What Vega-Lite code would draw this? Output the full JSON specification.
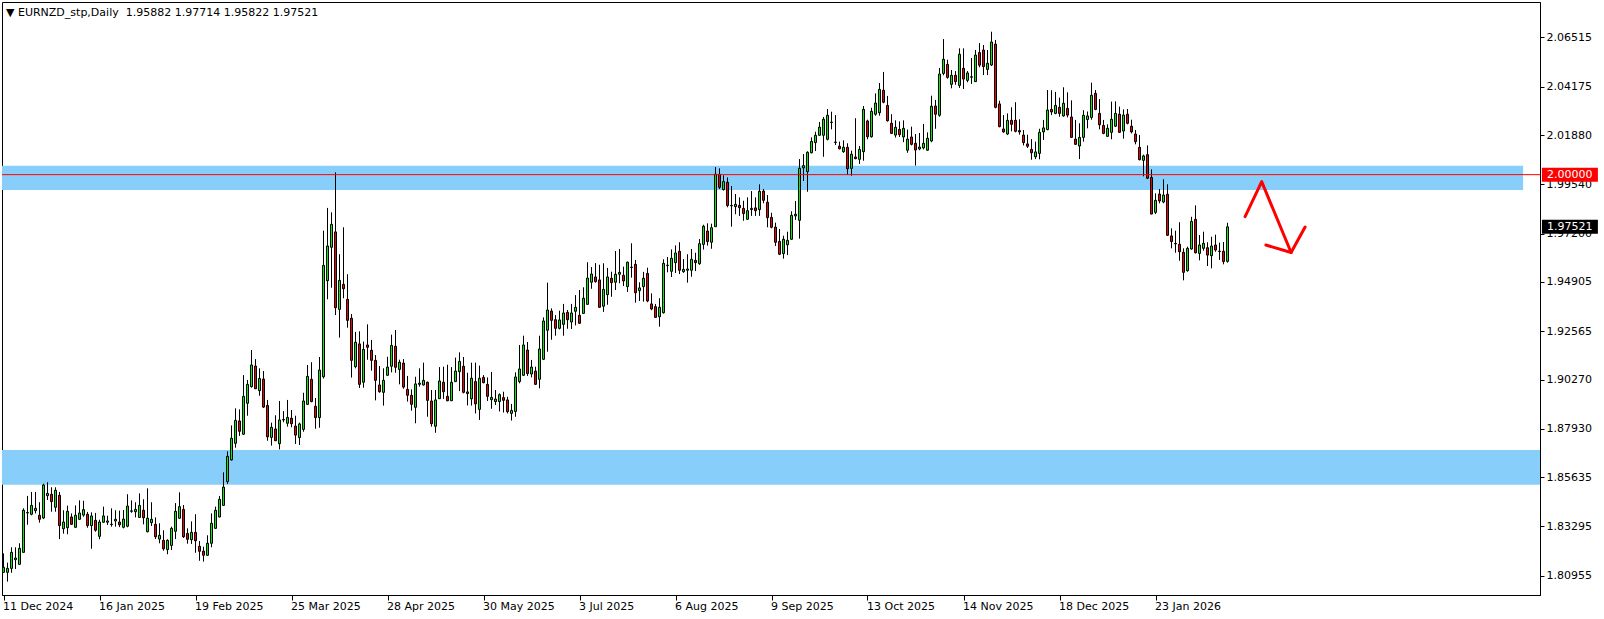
{
"$schema":"https://vega.github.io/schema/vega-lite/v6.json",
"width":1538,"height":593,
"autosize":{"type":"none"},
"padding":{"left":2,"top":2,"right":64,"bottom":24},
"background":"white",
"config":{"view":{"stroke":"black","strokeWidth":1},"font":"DejaVu Sans"},
"datasets":{"ohlc":[
{"i":0,"o":1.8111,"h":1.8201,"l":1.8109,"c":1.8135},
{"i":1,"o":1.8111,"h":1.8157,"l":1.8067,"c":1.8130},
{"i":2,"o":1.8130,"h":1.8230,"l":1.8109,"c":1.8206},
{"i":3,"o":1.8171,"h":1.8230,"l":1.8127,"c":1.8179},
{"i":4,"o":1.8149,"h":1.8249,"l":1.8149,"c":1.8225},
{"i":5,"o":1.8206,"h":1.8415,"l":1.8206,"c":1.8406},
{"i":6,"o":1.8393,"h":1.8474,"l":1.8337,"c":1.8395},
{"i":7,"o":1.8387,"h":1.8493,"l":1.8382,"c":1.8429},
{"i":8,"o":1.8404,"h":1.8493,"l":1.8391,"c":1.8415},
{"i":9,"o":1.8382,"h":1.8444,"l":1.8347,"c":1.8363},
{"i":10,"o":1.8369,"h":1.8532,"l":1.8364,"c":1.8526},
{"i":11,"o":1.8475,"h":1.8539,"l":1.8455,"c":1.8486},
{"i":12,"o":1.8482,"h":1.8515,"l":1.8399,"c":1.8447},
{"i":13,"o":1.8420,"h":1.8515,"l":1.8399,"c":1.8501},
{"i":14,"o":1.8477,"h":1.8493,"l":1.8269,"c":1.8333},
{"i":15,"o":1.8318,"h":1.8406,"l":1.8295,"c":1.8350},
{"i":16,"o":1.8323,"h":1.8428,"l":1.8292,"c":1.8401},
{"i":17,"o":1.8374,"h":1.8391,"l":1.8336,"c":1.8339},
{"i":18,"o":1.8325,"h":1.8429,"l":1.8323,"c":1.8382},
{"i":19,"o":1.8363,"h":1.8453,"l":1.8360,"c":1.8393},
{"i":20,"o":1.8383,"h":1.8451,"l":1.8375,"c":1.8409},
{"i":21,"o":1.8387,"h":1.8398,"l":1.8323,"c":1.8333},
{"i":22,"o":1.8333,"h":1.8396,"l":1.8223,"c":1.8379},
{"i":23,"o":1.8358,"h":1.8393,"l":1.8304,"c":1.8311},
{"i":24,"o":1.8282,"h":1.8361,"l":1.8268,"c":1.8350},
{"i":25,"o":1.8349,"h":1.8423,"l":1.8347,"c":1.8379},
{"i":26,"o":1.8349,"h":1.8380,"l":1.8336,"c":1.8355},
{"i":27,"o":1.8338,"h":1.8415,"l":1.8328,"c":1.8340},
{"i":28,"o":1.8355,"h":1.8406,"l":1.8328,"c":1.8363},
{"i":29,"o":1.8350,"h":1.8404,"l":1.8326,"c":1.8337},
{"i":30,"o":1.8325,"h":1.8407,"l":1.8320,"c":1.8364},
{"i":31,"o":1.8330,"h":1.8482,"l":1.8325,"c":1.8426},
{"i":32,"o":1.8401,"h":1.8453,"l":1.8394,"c":1.8403},
{"i":33,"o":1.8399,"h":1.8444,"l":1.8372,"c":1.8410},
{"i":34,"o":1.8372,"h":1.8486,"l":1.8370,"c":1.8429},
{"i":35,"o":1.8406,"h":1.8458,"l":1.8339,"c":1.8370},
{"i":36,"o":1.8304,"h":1.8510,"l":1.8301,"c":1.8368},
{"i":37,"o":1.8347,"h":1.8444,"l":1.8331,"c":1.8363},
{"i":38,"o":1.8339,"h":1.8372,"l":1.8269,"c":1.8280},
{"i":39,"o":1.8269,"h":1.8344,"l":1.8249,"c":1.8287},
{"i":40,"o":1.8263,"h":1.8311,"l":1.8214,"c":1.8223},
{"i":41,"o":1.8219,"h":1.8268,"l":1.8197,"c":1.8263},
{"i":42,"o":1.8239,"h":1.8328,"l":1.8217,"c":1.8320},
{"i":43,"o":1.8306,"h":1.8440,"l":1.8269,"c":1.8401},
{"i":44,"o":1.8368,"h":1.8491,"l":1.8366,"c":1.8423},
{"i":45,"o":1.8410,"h":1.8431,"l":1.8274,"c":1.8280},
{"i":46,"o":1.8296,"h":1.8320,"l":1.8247,"c":1.8268},
{"i":47,"o":1.8266,"h":1.8353,"l":1.8246,"c":1.8301},
{"i":48,"o":1.8301,"h":1.8387,"l":1.8204,"c":1.8261},
{"i":49,"o":1.8235,"h":1.8260,"l":1.8166,"c":1.8211},
{"i":50,"o":1.8212,"h":1.8233,"l":1.8162,"c":1.8192},
{"i":51,"o":1.8192,"h":1.8287,"l":1.8190,"c":1.8249},
{"i":52,"o":1.8249,"h":1.8391,"l":1.8230,"c":1.8344},
{"i":53,"o":1.8320,"h":1.8423,"l":1.8318,"c":1.8406},
{"i":54,"o":1.8374,"h":1.8474,"l":1.8372,"c":1.8458},
{"i":55,"o":1.8429,"h":1.8586,"l":1.8428,"c":1.8516},
{"i":56,"o":1.8542,"h":1.8686,"l":1.8531,"c":1.8662},
{"i":57,"o":1.8645,"h":1.8809,"l":1.8642,"c":1.8748},
{"i":58,"o":1.8724,"h":1.8890,"l":1.8703,"c":1.8833},
{"i":59,"o":1.8830,"h":1.8885,"l":1.8759,"c":1.8781},
{"i":60,"o":1.8767,"h":1.9048,"l":1.8765,"c":1.8947},
{"i":61,"o":1.8914,"h":1.9025,"l":1.8855,"c":1.9004},
{"i":62,"o":1.8993,"h":1.9167,"l":1.8988,"c":1.9096},
{"i":63,"o":1.9091,"h":1.9124,"l":1.8982,"c":1.8983},
{"i":64,"o":1.8974,"h":1.9080,"l":1.8950,"c":1.9032},
{"i":65,"o":1.9029,"h":1.9067,"l":1.8892,"c":1.8896},
{"i":66,"o":1.8904,"h":1.8930,"l":1.8736,"c":1.8755},
{"i":67,"o":1.8752,"h":1.8822,"l":1.8713,"c":1.8800},
{"i":68,"o":1.8792,"h":1.8857,"l":1.8735,"c":1.8736},
{"i":69,"o":1.8722,"h":1.8925,"l":1.8695,"c":1.8835},
{"i":70,"o":1.8835,"h":1.8877,"l":1.8824,"c":1.8837},
{"i":71,"o":1.8819,"h":1.8930,"l":1.8803,"c":1.8847},
{"i":72,"o":1.8843,"h":1.8882,"l":1.8800,"c":1.8817},
{"i":73,"o":1.8806,"h":1.8855,"l":1.8721,"c":1.8763},
{"i":74,"o":1.8751,"h":1.8822,"l":1.8716,"c":1.8816},
{"i":75,"o":1.8790,"h":1.8964,"l":1.8779,"c":1.8925},
{"i":76,"o":1.8909,"h":1.9096,"l":1.8906,"c":1.9042},
{"i":77,"o":1.9028,"h":1.9109,"l":1.8919,"c":1.8922},
{"i":78,"o":1.8900,"h":1.8939,"l":1.8793,"c":1.8846},
{"i":79,"o":1.8846,"h":1.9134,"l":1.8798,"c":1.9072},
{"i":80,"o":1.9040,"h":1.9734,"l":1.9032,"c":1.9569},
{"i":81,"o":1.9496,"h":1.9842,"l":1.9408,"c":1.9661},
{"i":82,"o":1.9655,"h":1.9821,"l":1.9463,"c":1.9764},
{"i":83,"o":1.9728,"h":2.0011,"l":1.9333,"c":1.9368},
{"i":84,"o":1.9360,"h":1.9622,"l":1.9226,"c":1.9498},
{"i":85,"o":1.9479,"h":1.9750,"l":1.9413,"c":1.9458},
{"i":86,"o":1.9408,"h":1.9527,"l":1.9273,"c":1.9308},
{"i":87,"o":1.9318,"h":1.9338,"l":1.9036,"c":1.9118},
{"i":88,"o":1.9088,"h":1.9253,"l":1.9080,"c":1.9204},
{"i":89,"o":1.9196,"h":1.9256,"l":1.8987,"c":1.9004},
{"i":90,"o":1.9014,"h":1.9207,"l":1.8988,"c":1.9170},
{"i":91,"o":1.9191,"h":1.9289,"l":1.9121,"c":1.9180},
{"i":92,"o":1.9166,"h":1.9215,"l":1.9069,"c":1.9118},
{"i":93,"o":1.9118,"h":1.9143,"l":1.8928,"c":1.9023},
{"i":94,"o":1.9001,"h":1.9091,"l":1.8964,"c":1.8969},
{"i":95,"o":1.8966,"h":1.9080,"l":1.8903,"c":1.9023},
{"i":96,"o":1.9047,"h":1.9135,"l":1.9045,"c":1.9086},
{"i":97,"o":1.9090,"h":1.9240,"l":1.9061,"c":1.9189},
{"i":98,"o":1.9185,"h":1.9262,"l":1.9059,"c":1.9085},
{"i":99,"o":1.9075,"h":1.9121,"l":1.9004,"c":1.9109},
{"i":100,"o":1.9105,"h":1.9124,"l":1.8983,"c":1.8991},
{"i":101,"o":1.8980,"h":1.9044,"l":1.8922,"c":1.8952},
{"i":102,"o":1.8952,"h":1.8980,"l":1.8879,"c":1.8909},
{"i":103,"o":1.8895,"h":1.9040,"l":1.8819,"c":1.9006},
{"i":104,"o":1.9004,"h":1.9080,"l":1.8993,"c":1.9010},
{"i":105,"o":1.9001,"h":1.9107,"l":1.8998,"c":1.9023},
{"i":106,"o":1.9014,"h":1.9017,"l":1.8850,"c":1.8928},
{"i":107,"o":1.8925,"h":1.8977,"l":1.8803,"c":1.8817},
{"i":108,"o":1.8805,"h":1.8977,"l":1.8774,"c":1.8930},
{"i":109,"o":1.8936,"h":1.9086,"l":1.8935,"c":1.9020},
{"i":110,"o":1.9014,"h":1.9088,"l":1.8935,"c":1.8969},
{"i":111,"o":1.8947,"h":1.9097,"l":1.8924,"c":1.8926},
{"i":112,"o":1.8926,"h":1.9086,"l":1.8925,"c":1.9014},
{"i":113,"o":1.9017,"h":1.9131,"l":1.9015,"c":1.9067},
{"i":114,"o":1.9064,"h":1.9156,"l":1.8972,"c":1.9113},
{"i":115,"o":1.9090,"h":1.9134,"l":1.8961,"c":1.8966},
{"i":116,"o":1.8968,"h":1.9059,"l":1.8904,"c":1.8960},
{"i":117,"o":1.8935,"h":1.9107,"l":1.8903,"c":1.9033},
{"i":118,"o":1.9017,"h":1.9107,"l":1.8866,"c":1.8911},
{"i":119,"o":1.8885,"h":1.9093,"l":1.8835,"c":1.9033},
{"i":120,"o":1.9037,"h":1.9048,"l":1.9009,"c":1.9012},
{"i":121,"o":1.9004,"h":1.9037,"l":1.8925,"c":1.8947},
{"i":122,"o":1.8931,"h":1.9063,"l":1.8888,"c":1.8942},
{"i":123,"o":1.8922,"h":1.8977,"l":1.8906,"c":1.8934},
{"i":124,"o":1.8922,"h":1.8961,"l":1.8875,"c":1.8955},
{"i":125,"o":1.8941,"h":1.8969,"l":1.8870,"c":1.8928},
{"i":126,"o":1.8930,"h":1.8945,"l":1.8866,"c":1.8874},
{"i":127,"o":1.8866,"h":1.8911,"l":1.8832,"c":1.8880},
{"i":128,"o":1.8875,"h":1.9061,"l":1.8850,"c":1.9039},
{"i":129,"o":1.9017,"h":1.9191,"l":1.9009,"c":1.9077},
{"i":130,"o":1.9047,"h":1.9235,"l":1.9044,"c":1.9191},
{"i":131,"o":1.9167,"h":1.9205,"l":1.9044,"c":1.9055},
{"i":132,"o":1.9053,"h":1.9120,"l":1.9037,"c":1.9086},
{"i":133,"o":1.9067,"h":1.9088,"l":1.9001,"c":1.9004},
{"i":134,"o":1.9028,"h":1.9235,"l":1.8985,"c":1.9172},
{"i":135,"o":1.9123,"h":1.9322,"l":1.9120,"c":1.9305},
{"i":136,"o":1.9261,"h":1.9487,"l":1.9159,"c":1.9357},
{"i":137,"o":1.9352,"h":1.9365,"l":1.9216,"c":1.9308},
{"i":138,"o":1.9311,"h":1.9333,"l":1.9235,"c":1.9270},
{"i":139,"o":1.9270,"h":1.9354,"l":1.9265,"c":1.9310},
{"i":140,"o":1.9289,"h":1.9386,"l":1.9235,"c":1.9343},
{"i":141,"o":1.9346,"h":1.9357,"l":1.9268,"c":1.9311},
{"i":142,"o":1.9300,"h":1.9386,"l":1.9267,"c":1.9343},
{"i":143,"o":1.9351,"h":1.9428,"l":1.9284,"c":1.9370},
{"i":144,"o":1.9332,"h":1.9452,"l":1.9292,"c":1.9294},
{"i":145,"o":1.9341,"h":1.9465,"l":1.9340,"c":1.9413},
{"i":146,"o":1.9384,"h":1.9584,"l":1.9383,"c":1.9509},
{"i":147,"o":1.9489,"h":1.9561,"l":1.9458,"c":1.9528},
{"i":148,"o":1.9514,"h":1.9580,"l":1.9487,"c":1.9492},
{"i":149,"o":1.9500,"h":1.9572,"l":1.9368,"c":1.9370},
{"i":150,"o":1.9375,"h":1.9579,"l":1.9348,"c":1.9455},
{"i":151,"o":1.9430,"h":1.9557,"l":1.9382,"c":1.9514},
{"i":152,"o":1.9508,"h":1.9539,"l":1.9420,"c":1.9487},
{"i":153,"o":1.9489,"h":1.9637,"l":1.9452,"c":1.9527},
{"i":154,"o":1.9527,"h":1.9647,"l":1.9484,"c":1.9536},
{"i":155,"o":1.9522,"h":1.9563,"l":1.9471,"c":1.9495},
{"i":156,"o":1.9468,"h":1.9587,"l":1.9443,"c":1.9584},
{"i":157,"o":1.9559,"h":1.9674,"l":1.9511,"c":1.9561},
{"i":158,"o":1.9574,"h":1.9595,"l":1.9392,"c":1.9439},
{"i":159,"o":1.9449,"h":1.9489,"l":1.9400,"c":1.9462},
{"i":160,"o":1.9468,"h":1.9538,"l":1.9397,"c":1.9508},
{"i":161,"o":1.9531,"h":1.9558,"l":1.9394,"c":1.9400},
{"i":162,"o":1.9386,"h":1.9436,"l":1.9356,"c":1.9362},
{"i":163,"o":1.9373,"h":1.9386,"l":1.9321,"c":1.9322},
{"i":164,"o":1.9325,"h":1.9413,"l":1.9278,"c":1.9370},
{"i":165,"o":1.9344,"h":1.9598,"l":1.9340,"c":1.9579},
{"i":166,"o":1.9568,"h":1.9609,"l":1.9536,"c":1.9570},
{"i":167,"o":1.9541,"h":1.9645,"l":1.9514,"c":1.9603},
{"i":168,"o":1.9582,"h":1.9664,"l":1.9533,"c":1.9628},
{"i":169,"o":1.9636,"h":1.9679,"l":1.9528,"c":1.9546},
{"i":170,"o":1.9539,"h":1.9599,"l":1.9534,"c":1.9550},
{"i":171,"o":1.9546,"h":1.9622,"l":1.9487,"c":1.9552},
{"i":172,"o":1.9546,"h":1.9647,"l":1.9515,"c":1.9598},
{"i":173,"o":1.9593,"h":1.9629,"l":1.9542,"c":1.9582},
{"i":174,"o":1.9577,"h":1.9694,"l":1.9572,"c":1.9672},
{"i":175,"o":1.9669,"h":1.9762,"l":1.9644,"c":1.9755},
{"i":176,"o":1.9732,"h":1.9769,"l":1.9663,"c":1.9682},
{"i":177,"o":1.9679,"h":1.9767,"l":1.9648,"c":1.9748},
{"i":178,"o":1.9753,"h":2.0036,"l":1.9751,"c":2.0002},
{"i":179,"o":2.0002,"h":2.0030,"l":1.9932,"c":1.9940},
{"i":180,"o":1.9929,"h":1.9997,"l":1.9924,"c":1.9967},
{"i":181,"o":1.9964,"h":1.9987,"l":1.9845,"c":1.9853},
{"i":182,"o":1.9852,"h":1.9946,"l":1.9753,"c":1.9854},
{"i":183,"o":1.9848,"h":1.9908,"l":1.9812,"c":1.9859},
{"i":184,"o":1.9854,"h":1.9892,"l":1.9804,"c":1.9843},
{"i":185,"o":1.9840,"h":1.9876,"l":1.9781,"c":1.9815},
{"i":186,"o":1.9788,"h":1.9892,"l":1.9786,"c":1.9829},
{"i":187,"o":1.9834,"h":1.9922,"l":1.9804,"c":1.9840},
{"i":188,"o":1.9842,"h":1.9892,"l":1.9804,"c":1.9829},
{"i":189,"o":1.9834,"h":1.9954,"l":1.9804,"c":1.9921},
{"i":190,"o":1.9922,"h":1.9932,"l":1.9864,"c":1.9878},
{"i":191,"o":1.9869,"h":1.9903,"l":1.9750,"c":1.9796},
{"i":192,"o":1.9797,"h":1.9819,"l":1.9745,"c":1.9750},
{"i":193,"o":1.9751,"h":1.9772,"l":1.9661,"c":1.9679},
{"i":194,"o":1.9683,"h":1.9742,"l":1.9618,"c":1.9622},
{"i":195,"o":1.9625,"h":1.9710,"l":1.9601,"c":1.9693},
{"i":196,"o":1.9667,"h":1.9729,"l":1.9618,"c":1.9688},
{"i":197,"o":1.9693,"h":1.9826,"l":1.9691,"c":1.9807},
{"i":198,"o":1.9804,"h":1.9875,"l":1.9785,"c":1.9812},
{"i":199,"o":1.9783,"h":2.0074,"l":1.9696,"c":2.0030},
{"i":200,"o":2.0032,"h":2.0098,"l":1.9970,"c":2.0043},
{"i":201,"o":2.0014,"h":2.0111,"l":1.9919,"c":2.0106},
{"i":202,"o":2.0104,"h":2.0177,"l":2.0101,"c":2.0158},
{"i":203,"o":2.0152,"h":2.0204,"l":2.0112,"c":2.0187},
{"i":204,"o":2.0187,"h":2.0250,"l":2.0185,"c":2.0226},
{"i":205,"o":2.0187,"h":2.0274,"l":2.0085,"c":2.0263},
{"i":206,"o":2.0168,"h":2.0312,"l":2.0163,"c":2.0282},
{"i":207,"o":2.0248,"h":2.0299,"l":2.0215,"c":2.0250},
{"i":208,"o":2.0155,"h":2.0283,"l":2.0141,"c":2.0153},
{"i":209,"o":2.0135,"h":2.0157,"l":2.0120,"c":2.0123},
{"i":210,"o":2.0109,"h":2.0163,"l":2.0104,"c":2.0130},
{"i":211,"o":2.0130,"h":2.0149,"l":2.0000,"c":2.0028},
{"i":212,"o":2.0030,"h":2.0114,"l":1.9995,"c":2.0097},
{"i":213,"o":2.0084,"h":2.0268,"l":2.0073,"c":2.0076},
{"i":214,"o":2.0073,"h":2.0136,"l":2.0051,"c":2.0120},
{"i":215,"o":2.0109,"h":2.0326,"l":2.0066,"c":2.0310},
{"i":216,"o":2.0255,"h":2.0261,"l":2.0168,"c":2.0180},
{"i":217,"o":2.0180,"h":2.0318,"l":2.0176,"c":2.0301},
{"i":218,"o":2.0287,"h":2.0386,"l":2.0280,"c":2.0340},
{"i":219,"o":2.0294,"h":2.0435,"l":2.0280,"c":2.0405},
{"i":220,"o":2.0401,"h":2.0488,"l":2.0339,"c":2.0344},
{"i":221,"o":2.0329,"h":2.0374,"l":2.0252,"c":2.0256},
{"i":222,"o":2.0244,"h":2.0287,"l":2.0193,"c":2.0196},
{"i":223,"o":2.0188,"h":2.0258,"l":2.0176,"c":2.0225},
{"i":224,"o":2.0215,"h":2.0253,"l":2.0179,"c":2.0190},
{"i":225,"o":2.0179,"h":2.0258,"l":2.0154,"c":2.0220},
{"i":226,"o":2.0116,"h":2.0214,"l":2.0104,"c":2.0169},
{"i":227,"o":2.0179,"h":2.0228,"l":2.0139,"c":2.0144},
{"i":228,"o":2.0149,"h":2.0193,"l":2.0043,"c":2.0117},
{"i":229,"o":2.0122,"h":2.0198,"l":2.0116,"c":2.0131},
{"i":230,"o":2.0127,"h":2.0241,"l":2.0120,"c":2.0149},
{"i":231,"o":2.0116,"h":2.0201,"l":2.0114,"c":2.0173},
{"i":232,"o":2.0160,"h":2.0375,"l":2.0154,"c":2.0325},
{"i":233,"o":2.0326,"h":2.0355,"l":2.0218,"c":2.0287},
{"i":234,"o":2.0282,"h":2.0507,"l":2.0275,"c":2.0478},
{"i":235,"o":2.0481,"h":2.0644,"l":2.0472,"c":2.0548},
{"i":236,"o":2.0524,"h":2.0546,"l":2.0456,"c":2.0462},
{"i":237,"o":2.0429,"h":2.0497,"l":2.0410,"c":2.0472},
{"i":238,"o":2.0472,"h":2.0492,"l":2.0427,"c":2.0442},
{"i":239,"o":2.0424,"h":2.0600,"l":2.0412,"c":2.0572},
{"i":240,"o":2.0505,"h":2.0600,"l":2.0407,"c":2.0454},
{"i":241,"o":2.0448,"h":2.0492,"l":2.0439,"c":2.0483},
{"i":242,"o":2.0463,"h":2.0554,"l":2.0431,"c":2.0465},
{"i":243,"o":2.0442,"h":2.0592,"l":2.0440,"c":2.0568},
{"i":244,"o":2.0580,"h":2.0625,"l":2.0510,"c":2.0520},
{"i":245,"o":2.0592,"h":2.0616,"l":2.0473,"c":2.0513},
{"i":246,"o":2.0500,"h":2.0592,"l":2.0473,"c":2.0529},
{"i":247,"o":2.0521,"h":2.0679,"l":2.0516,"c":2.0630},
{"i":248,"o":2.0620,"h":2.0640,"l":2.0315,"c":2.0320},
{"i":249,"o":2.0336,"h":2.0351,"l":2.0225,"c":2.0228},
{"i":250,"o":2.0217,"h":2.0283,"l":2.0199,"c":2.0203},
{"i":251,"o":2.0193,"h":2.0291,"l":2.0188,"c":2.0258},
{"i":252,"o":2.0258,"h":2.0320,"l":2.0206,"c":2.0239},
{"i":253,"o":2.0258,"h":2.0344,"l":2.0201,"c":2.0206},
{"i":254,"o":2.0209,"h":2.0263,"l":2.0190,"c":2.0203},
{"i":255,"o":2.0188,"h":2.0212,"l":2.0139,"c":2.0152},
{"i":256,"o":2.0146,"h":2.0190,"l":2.0127,"c":2.0135},
{"i":257,"o":2.0120,"h":2.0169,"l":2.0071,"c":2.0104},
{"i":258,"o":2.0085,"h":2.0157,"l":2.0074,"c":2.0108},
{"i":259,"o":2.0101,"h":2.0218,"l":2.0073,"c":2.0201},
{"i":260,"o":2.0203,"h":2.0260,"l":2.0165,"c":2.0222},
{"i":261,"o":2.0214,"h":2.0402,"l":2.0211,"c":2.0307},
{"i":262,"o":2.0310,"h":2.0401,"l":2.0283,"c":2.0298},
{"i":263,"o":2.0291,"h":2.0393,"l":2.0287,"c":2.0329},
{"i":264,"o":2.0320,"h":2.0366,"l":2.0275,"c":2.0291},
{"i":265,"o":2.0279,"h":2.0415,"l":2.0275,"c":2.0339},
{"i":266,"o":2.0315,"h":2.0391,"l":2.0272,"c":2.0283},
{"i":267,"o":2.0274,"h":2.0353,"l":2.0174,"c":2.0177},
{"i":268,"o":2.0169,"h":2.0260,"l":2.0141,"c":2.0144},
{"i":269,"o":2.0136,"h":2.0244,"l":2.0074,"c":2.0177},
{"i":270,"o":2.0177,"h":2.0306,"l":2.0157,"c":2.0282},
{"i":271,"o":2.0262,"h":2.0300,"l":2.0220,"c":2.0279},
{"i":272,"o":2.0272,"h":2.0437,"l":2.0261,"c":2.0377},
{"i":273,"o":2.0386,"h":2.0402,"l":2.0306,"c":2.0310},
{"i":274,"o":2.0291,"h":2.0359,"l":2.0215,"c":2.0237},
{"i":275,"o":2.0234,"h":2.0260,"l":2.0192,"c":2.0196},
{"i":276,"o":2.0182,"h":2.0239,"l":2.0179,"c":2.0220},
{"i":277,"o":2.0201,"h":2.0347,"l":2.0168,"c":2.0263},
{"i":278,"o":2.0230,"h":2.0348,"l":2.0226,"c":2.0291},
{"i":279,"o":2.0287,"h":2.0323,"l":2.0198,"c":2.0201},
{"i":280,"o":2.0207,"h":2.0310,"l":2.0171,"c":2.0283},
{"i":281,"o":2.0287,"h":2.0312,"l":2.0239,"c":2.0244},
{"i":282,"o":2.0230,"h":2.0261,"l":2.0196,"c":2.0203},
{"i":283,"o":2.0193,"h":2.0212,"l":2.0144,"c":2.0157},
{"i":284,"o":2.0130,"h":2.0188,"l":2.0068,"c":2.0071},
{"i":285,"o":2.0068,"h":2.0095,"l":1.9992,"c":2.0089},
{"i":286,"o":2.0095,"h":2.0139,"l":1.9979,"c":1.9983},
{"i":287,"o":1.9987,"h":2.0025,"l":1.9812,"c":1.9813},
{"i":288,"o":1.9821,"h":1.9911,"l":1.9813,"c":1.9878},
{"i":289,"o":1.9908,"h":1.9932,"l":1.9864,"c":1.9875},
{"i":290,"o":1.9870,"h":1.9978,"l":1.9864,"c":1.9903},
{"i":291,"o":1.9907,"h":1.9954,"l":1.9709,"c":1.9712},
{"i":292,"o":1.9709,"h":1.9745,"l":1.9650,"c":1.9682},
{"i":293,"o":1.9673,"h":1.9734,"l":1.9629,"c":1.9671},
{"i":294,"o":1.9669,"h":1.9774,"l":1.9591,"c":1.9634},
{"i":295,"o":1.9631,"h":1.9650,"l":1.9498,"c":1.9536},
{"i":296,"o":1.9544,"h":1.9658,"l":1.9539,"c":1.9650},
{"i":297,"o":1.9647,"h":1.9800,"l":1.9644,"c":1.9778},
{"i":298,"o":1.9788,"h":1.9854,"l":1.9626,"c":1.9629},
{"i":299,"o":1.9626,"h":1.9713,"l":1.9593,"c":1.9666},
{"i":300,"o":1.9650,"h":1.9729,"l":1.9639,"c":1.9674},
{"i":301,"o":1.9653,"h":1.9679,"l":1.9566,"c":1.9618},
{"i":302,"o":1.9615,"h":1.9705,"l":1.9555,"c":1.9661},
{"i":303,"o":1.9666,"h":1.9715,"l":1.9634,"c":1.9642},
{"i":304,"o":1.9637,"h":1.9677,"l":1.9595,"c":1.9635},
{"i":305,"o":1.9636,"h":1.9680,"l":1.9574,"c":1.9587},
{"i":306,"o":1.95882,"h":1.97714,"l":1.95822,"c":1.97521}
]},
"layer":[
{"data":{"values":[{"zone":"resistance","from":-0.375,"to":379.9,"lo":1.99276,"hi":2.00421},{"zone":"support","from":-0.375,"to":384.125,"lo":1.85268,"hi":1.86921}]},
 "mark":{"type":"rect","color":"#87cefa"},
 "encoding":{"x":{"field":"from","type":"quantitative","scale":{"domain":[-0.375,384.125],"nice":false,"zero":false,"padding":0},
   "axis":{"values":[0,24,48,72,96,120,144,168,192,216,240,264,288],"labelExpr":"['11 Dec 2024','16 Jan 2025','19 Feb 2025','25 Mar 2025','28 Apr 2025','30 May 2025','3 Jul 2025','6 Aug 2025','9 Sep 2025','13 Oct 2025','14 Nov 2025','18 Dec 2025','23 Jan 2026'][round(datum.value/24)]","title":null,"grid":false,"tickSize":5,"tickColor":"black","domainColor":"black","labelColor":"black","labelFont":"DejaVu Sans","labelFontSize":11,"labelAlign":"left","labelBaseline":"top","labelPadding":0,"labelOffset":-1,"labelFlush":false,"labelOverlap":false,"labelBound":false,"zindex":0}},
  "x2":{"field":"to"},
  "y":{"field":"lo","type":"quantitative","scale":{"domain":[1.80034,2.08201],"nice":false,"zero":false,"padding":0},
   "axis":{"orient":"right","values":[1.80955,1.83295,1.85635,1.8793,1.9027,1.92565,1.94905,1.972,1.9954,2.0188,2.04175,2.06515],"format":".5f","title":null,"grid":false,"tickSize":4,"tickColor":"black","domainColor":"black","labelColor":"black","labelFont":"DejaVu Sans","labelFontSize":11,"labelPadding":2,"labelFlush":false,"labelOverlap":false,"labelBound":false,"zindex":0}},
  "y2":{"field":"hi"}}},
{"data":{"name":"ohlc"},
 "mark":{"type":"rule","color":"black","strokeWidth":1},
 "encoding":{"x":{"field":"i","type":"quantitative","scale":{"domain":[-0.375,384.125],"nice":false,"zero":false,"padding":0}},
  "y":{"field":"l","type":"quantitative","scale":{"domain":[1.80034,2.08201],"nice":false,"zero":false,"padding":0}},"y2":{"field":"h"}}},
{"data":{"name":"ohlc"},
 "mark":{"type":"bar","width":2,"stroke":"black","strokeWidth":1},
 "encoding":{"x":{"field":"i","type":"quantitative","scale":{"domain":[-0.375,384.125],"nice":false,"zero":false,"padding":0}},
  "y":{"field":"o","type":"quantitative","scale":{"domain":[1.80034,2.08201],"nice":false,"zero":false,"padding":0}},
  "y2":{"field":"c"},
  "fill":{"condition":{"test":"datum.c >= datum.o","value":"#00f000"},"value":"#f00000"}}},
{"data":{"values":[{"level":2.0}]},
 "mark":{"type":"rule","color":"#ff0000","strokeWidth":1},
 "encoding":{"y":{"field":"level","type":"quantitative","scale":{"domain":[1.80034,2.08201],"nice":false,"zero":false,"padding":0}}}},
{"data":{"values":[{"seg":"a","ord":1,"i":310.4,"p":1.98003},{"seg":"a","ord":2,"i":314.55,"p":1.99666},{"seg":"a","ord":3,"i":321.9,"p":1.96302},{"seg":"b","ord":1,"i":315.6,"p":1.96659},{"seg":"b","ord":2,"i":321.9,"p":1.96302},{"seg":"b","ord":3,"i":325.4,"p":1.97514}]},
 "mark":{"type":"line","color":"#ff0000","strokeWidth":3,"strokeCap":"round","strokeJoin":"round"},
 "encoding":{"x":{"field":"i","type":"quantitative","scale":{"domain":[-0.375,384.125],"nice":false,"zero":false,"padding":0}},
  "y":{"field":"p","type":"quantitative","scale":{"domain":[1.80034,2.08201],"nice":false,"zero":false,"padding":0}},
  "detail":{"field":"seg","type":"nominal"},"order":{"field":"ord","type":"quantitative"}}},
{"data":{"values":[{"t":"▼ EURNZD_stp,Daily\u00a0 1.95882 1.97714 1.95822 1.97521"}]},
 "mark":{"type":"text","align":"left","baseline":"alphabetic","fontSize":11,"font":"DejaVu Sans","color":"black"},
 "encoding":{"x":{"datum":0.625,"type":"quantitative","scale":{"domain":[-0.375,384.125],"nice":false,"zero":false,"padding":0}},
  "y":{"datum":2.07513,"type":"quantitative","scale":{"domain":[1.80034,2.08201],"nice":false,"zero":false,"padding":0}},
  "text":{"field":"t"}}},
{"data":{"values":[{"kind":"level","p":2.0,"txt":"2.00000"},{"kind":"last","p":1.97521,"txt":"1.97521"}]},
 "layer":[
  {"mark":{"type":"tick","orient":"horizontal","size":56,"thickness":14,"opacity":1},
   "encoding":{"x":{"datum":391.6,"type":"quantitative","scale":{"domain":[-0.375,384.125],"nice":false,"zero":false,"padding":0}},
    "y":{"field":"p","type":"quantitative","scale":{"domain":[1.80034,2.08201],"nice":false,"zero":false,"padding":0}},
    "color":{"field":"kind","type":"nominal","scale":{"domain":["level","last"],"range":["#ff0000","#000000"]},"legend":null}}},
  {"mark":{"type":"text","align":"left","baseline":"middle","color":"white","fontSize":11,"font":"DejaVu Sans"},
   "encoding":{"x":{"datum":385.9,"type":"quantitative","scale":{"domain":[-0.375,384.125],"nice":false,"zero":false,"padding":0}},
    "y":{"field":"p","type":"quantitative","scale":{"domain":[1.80034,2.08201],"nice":false,"zero":false,"padding":0}},
    "text":{"field":"txt"}}}
 ]}
]
}
